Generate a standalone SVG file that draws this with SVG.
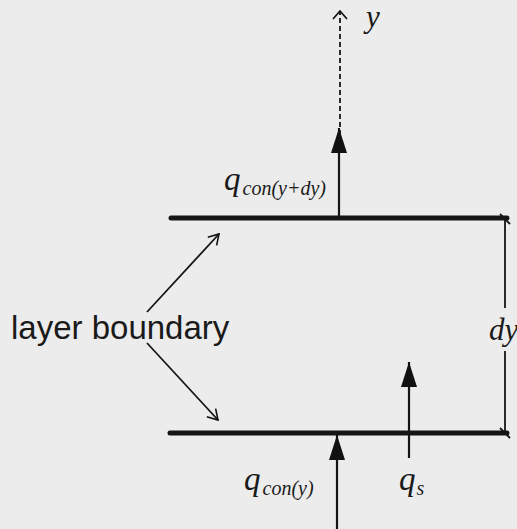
<svg xmlns="http://www.w3.org/2000/svg" width="517" height="529" viewBox="0 0 517 529">
<defs>
<marker id="solid" viewBox="0 0 25 16" refX="25" refY="8" markerWidth="25" markerHeight="16" markerUnits="userSpaceOnUse" orient="auto">
<path d="M0,0 L25,8 L0,16 Z" fill="#111"/>
</marker>
<marker id="open" viewBox="0 0 12 14" refX="11" refY="7" markerWidth="12" markerHeight="14" markerUnits="userSpaceOnUse" orient="auto">
<path d="M1,1 L11,7 L1,13" fill="none" stroke="#111" stroke-width="1.6"/>
</marker>
<style>
.bd{stroke:#151515;stroke-width:5;stroke-linecap:round}
.ln{stroke:#151515;stroke-width:1.8;fill:none}
.th{stroke:#151515;stroke-width:2.2;fill:none}
.m{font-family:"Liberation Serif",serif;font-style:italic;fill:#1a1a1a}
.s{font-family:"Liberation Sans",sans-serif;fill:#1a1a1a}
</style>
</defs>
<rect width="517" height="529" fill="#ececec"/>
<g id="connectors">
<line class="th" x1="339" y1="218" x2="339" y2="128" marker-end="url(#solid)"/>
<line class="ln" x1="340" y1="135" x2="340" y2="12" stroke-dasharray="5,3"/>
<path class="ln" d="M333,19 L340,11 L347,19"/>
<line class="th" x1="337" y1="529" x2="337" y2="435" marker-end="url(#solid)"/>
<line class="th" x1="409" y1="458" x2="409" y2="362" marker-end="url(#solid)"/>
<line class="ln" x1="147" y1="312" x2="219" y2="234" marker-end="url(#open)"/>
<line class="ln" x1="147" y1="343" x2="218" y2="420" marker-end="url(#open)"/>
<line class="ln" x1="505" y1="219" x2="505" y2="308"/>
<line class="ln" x1="505" y1="351" x2="505" y2="433"/>
<line class="ln" x1="500" y1="214" x2="510" y2="224"/>
<line class="ln" x1="500" y1="428" x2="510" y2="438"/>
</g>
<g id="top-boundary"><line class="bd" x1="171" y1="218" x2="507" y2="218"/></g>
<g id="bottom-boundary"><line class="bd" x1="170" y1="433" x2="507" y2="433"/></g>
<g id="label-y"><text class="m" x="366" y="27" font-size="31">y</text></g>
<g id="label-qtop"><text class="m" x="224" y="190" font-size="33">q<tspan font-size="20" dx="2" dy="5">con(y+dy)</tspan></text></g>
<g id="label-qbot"><text class="m" x="244" y="490" font-size="33">q<tspan font-size="20" dx="2" dy="5">con(y)</tspan></text></g>
<g id="label-qs"><text class="m" x="399" y="490" font-size="33">q<tspan font-size="20" dx="1" dy="5">s</tspan></text></g>
<g id="label-dy"><text class="m" x="489" y="340" font-size="31">dy</text></g>
<g id="label-layer"><text class="s" x="11" y="339" font-size="33">layer boundary</text></g>
</svg>
